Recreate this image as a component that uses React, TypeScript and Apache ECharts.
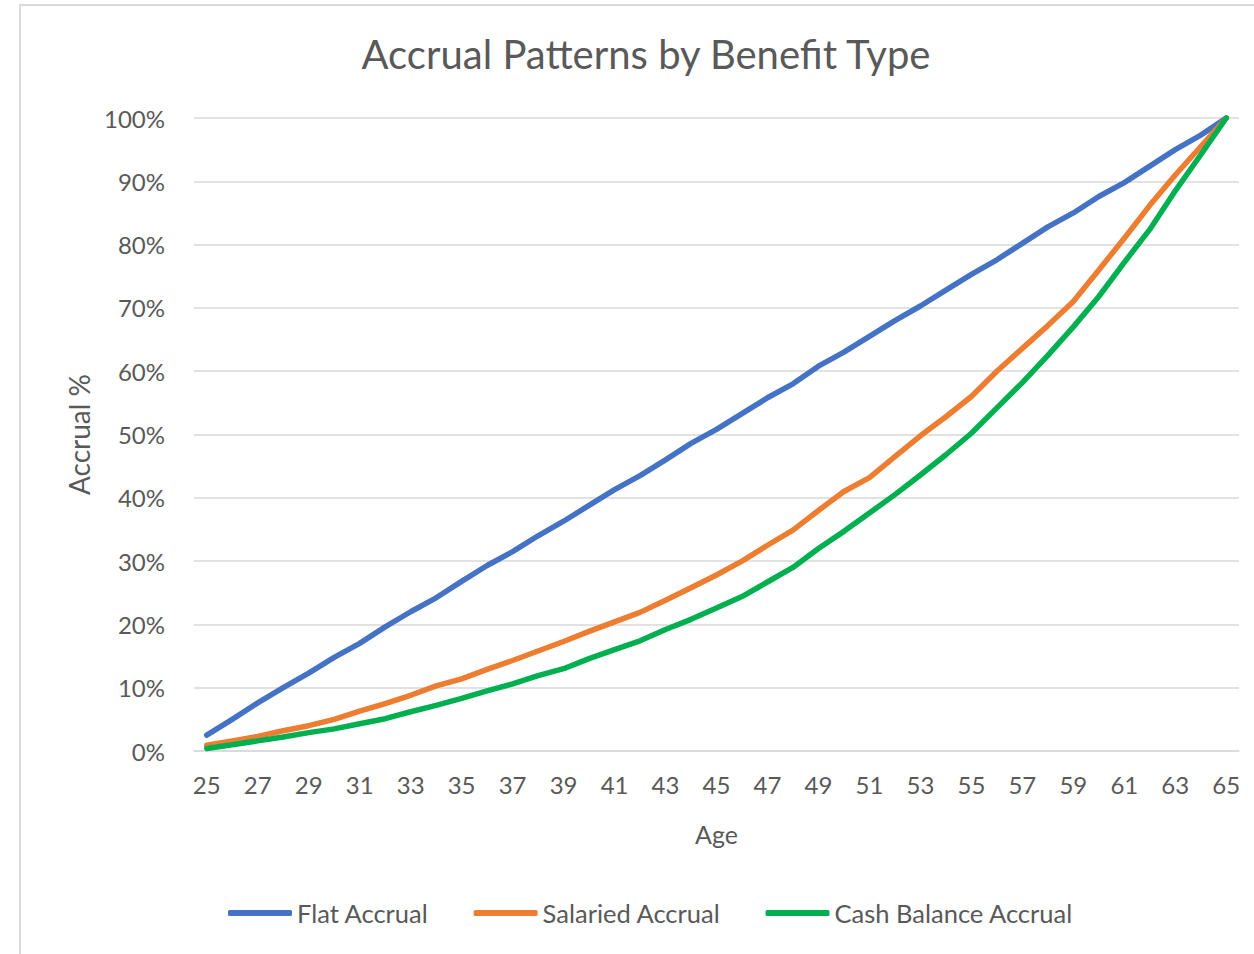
import React, { useEffect, useRef } from "react";
import * as echarts from "echarts";

const ages: string[] = [
  "25", "26", "27", "28", "29", "30", "31", "32", "33", "34",
  "35", "36", "37", "38", "39", "40", "41", "42", "43", "44",
  "45", "46", "47", "48", "49", "50", "51", "52", "53", "54",
  "55", "56", "57", "58", "59", "60", "61", "62", "63", "64", "65",
];

const flatAccrual: number[] = [
  2.5, 5.0, 7.6, 10.0, 12.3, 14.8, 17.0, 19.6, 22.0, 24.2,
  26.8, 29.3, 31.5, 34.0, 36.3, 38.8, 41.3, 43.5, 46.0, 48.6,
  50.8, 53.3, 55.8, 58.0, 60.8, 63.0, 65.5, 68.0, 70.3, 72.8,
  75.3, 77.6, 80.2, 82.8, 85.0, 87.6, 89.8, 92.4, 95.0, 97.3, 100,
];

const salariedAccrual: number[] = [
  0.9, 1.6, 2.3, 3.2, 4.0, 5.0, 6.3, 7.5, 8.8, 10.3,
  11.4, 12.9, 14.3, 15.8, 17.3, 18.9, 20.4, 21.9, 23.8, 25.8,
  27.8, 30.0, 32.5, 34.9, 38.0, 41.0, 43.2, 46.5, 49.8, 52.8,
  56.0, 60.0, 63.6, 67.2, 71.0, 76.0, 81.0, 86.2, 91.0, 95.5, 100,
];

const cashBalanceAccrual: number[] = [
  0.4, 1.0, 1.6, 2.2, 2.9, 3.5, 4.3, 5.1, 6.2, 7.2,
  8.3, 9.5, 10.6, 11.9, 13.0, 14.6, 16.0, 17.4, 19.2, 20.8,
  22.6, 24.4, 26.7, 29.0, 32.0, 34.7, 37.6, 40.5, 43.6, 46.8,
  50.2, 54.2, 58.2, 62.5, 67.0, 71.8, 77.2, 82.4, 88.5, 94.2, 100,
];

const seriesNames = ["Flat Accrual", "Salaried Accrual", "Cash Balance Accrual"];
const seriesColors = ["#4472C4", "#ED7D31", "#00B050"];

const FONT = "Lato, 'Noto Sans', sans-serif";
const TEXT = "#595959";
const GRID = "#d9d9d9";

export default function App() {
  const ref = useRef<HTMLDivElement>(null);

  useEffect(() => {
    document.body.style.margin = "0";
    if (!ref.current) return;
    const chart = echarts.init(ref.current, undefined, { renderer: "svg" });
    const values = [flatAccrual, salariedAccrual, cashBalanceAccrual];
    chart.setOption({
      animation: false,
      backgroundColor: "#ffffff",
      textStyle: { fontFamily: FONT },
      title: {
        text: "Accrual Patterns by Benefit Type",
        left: 641,
        top: 29,
        textAlign: "center",
        textStyle: { fontFamily: FONT, fontSize: 40, fontWeight: "normal", color: TEXT },
      },
      graphic: [
        {
          type: "rect",
          shape: { x: 20, y: 5, width: 1300, height: 1000 },
          style: { fill: "none", stroke: GRID, lineWidth: 2 },
          silent: true,
        },
      ],
      grid: { left: 194, right: 15, top: 118, bottom: 203, containLabel: false },
      legend: {
        data: seriesNames,
        left: 223,
        top: 895,
        icon: "roundRect",
        itemWidth: 64,
        itemHeight: 6,
        itemGap: 45,
        textStyle: { fontFamily: FONT, fontSize: 25.5, color: TEXT },
      },
      xAxis: {
        type: "category",
        data: ages,
        boundaryGap: true,
        axisTick: { show: false },
        axisLine: { lineStyle: { color: GRID, width: 1.5 } },
        axisLabel: { interval: 1, fontSize: 24, color: TEXT, margin: 21, fontFamily: FONT },
        name: "Age",
        nameLocation: "middle",
        nameGap: 70,
        nameTextStyle: { fontSize: 25, color: TEXT, fontFamily: FONT },
      },
      yAxis: {
        type: "value",
        min: 0,
        max: 100,
        interval: 10,
        axisLine: { show: false },
        axisTick: { show: false },
        axisLabel: { formatter: "{value}%", fontSize: 24, color: TEXT, margin: 29, fontFamily: FONT },
        splitLine: { lineStyle: { color: GRID, width: 1.5 } },
        name: "Accrual %",
        nameLocation: "middle",
        nameGap: 100,
        nameRotate: 90,
        nameTextStyle: { fontSize: 28, color: TEXT, fontFamily: FONT },
      },
      series: seriesNames.map((name, i) => ({
        name,
        type: "line",
        data: values[i],
        symbol: "none",
        smooth: false,
        color: seriesColors[i],
        lineStyle: { width: 5.5, color: seriesColors[i], cap: "round", join: "round" },
      })),
    });
    return () => chart.dispose();
  }, []);

  return <div ref={ref} style={{ width: 1254, height: 954 }} />;
}
